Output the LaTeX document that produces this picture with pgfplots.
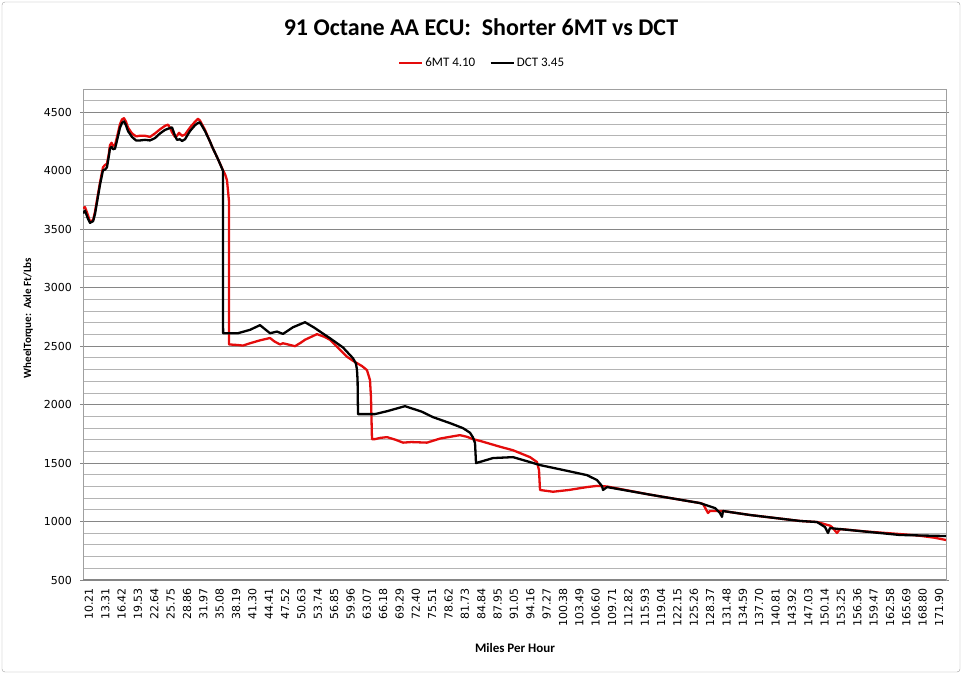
\documentclass[border=0pt]{standalone}
\usepackage{pgfplots}
\pgfplotsset{compat=1.18}
\usepackage{fontspec}
\setmainfont{Carlito}
\newfontfamily\dejavu{DejaVu Sans}
\definecolor{sixmt}{RGB}{228,12,12}
\definecolor{majgrid}{RGB}{134,134,134}
\definecolor{mingrid}{RGB}{180,180,180}
\definecolor{frame}{RGB}{160,160,160}
\begin{document}
\begin{tikzpicture}[x=1pt,y=1pt]
\path (0,0) rectangle (963,675);
\draw[frame, rounded corners=3pt] (2,3) rectangle (960,673);
\node[font=\bfseries\fontsize{24}{28}\selectfont] at (481,648) {91 Octane AA ECU:\ \ Shorter 6MT vs DCT};
\begin{axis}[
  at={(83pt,95pt)}, anchor=south west,
  scale only axis, width=863pt, height=491pt,
  xmin=9.07, xmax=173.23,
  ymin=500, ymax=4700,
  ytick={500,1000,...,4500},
  minor ytick={600,700,800,900,1100,1200,1300,1400,1600,1700,1800,1900,2100,2200,2300,2400,2600,2700,2800,2900,3100,3200,3300,3400,3600,3700,3800,3900,4100,4200,4300,4400,4600,4700},
  ymajorgrids, yminorgrids,
  major grid style={majgrid, line width=0.9pt},
  minor grid style={mingrid, line width=0.9pt},
  xtick={10.21,13.31,16.42,19.53,22.64,25.75,28.86,31.97,35.08,38.19,41.30,44.41,47.52,50.63,53.74,56.85,59.96,63.07,66.18,69.29,72.40,75.51,78.62,81.73,84.84,87.95,91.05,94.16,97.27,100.38,103.49,106.60,109.71,112.82,115.93,119.04,122.15,125.26,128.37,131.48,134.59,137.70,140.81,143.92,147.03,150.14,153.25,156.36,159.47,162.58,165.69,168.80,171.90},
  xticklabels={10.21,13.31,16.42,19.53,22.64,25.75,28.86,31.97,35.08,38.19,41.30,44.41,47.52,50.63,53.74,56.85,59.96,63.07,66.18,69.29,72.40,75.51,78.62,81.73,84.84,87.95,91.05,94.16,97.27,100.38,103.49,106.60,109.71,112.82,115.93,119.04,122.15,125.26,128.37,131.48,134.59,137.70,140.81,143.92,147.03,150.14,153.25,156.36,159.47,162.58,165.69,168.80,171.90},
  xtick style={draw=none},
  x tick label style={rotate=90, anchor=east, font=\dejavu\fontsize{11}{13}\selectfont, inner sep=0pt, xshift=-5pt},
  y tick label style={font=\dejavu\fontsize{11}{13}\selectfont, inner sep=0pt, xshift=-8pt},
  /pgf/number format/assume math mode=true,
  /pgf/number format/set thousands separator={},
  tick align=outside,
  major tick length=3pt, minor tick length=0pt,
  ytick style={draw=majgrid, line width=0.8pt},
  axis line style={draw=frame, line width=0.8pt},
  xlabel={Miles Per Hour},
  xlabel style={at={(axis description cs:0.5006,-0.1385)}, anchor=center, font=\bfseries\fontsize{13}{15}\selectfont},
  ylabel={WheelTorque:\ \ Axle Ft/Lbs},
  ylabel style={at={(axis description cs:-0.0637,0.5336)}, anchor=center, font=\bfseries\fontsize{11}{13}\selectfont},
  legend columns=2,
  legend style={at={(axis description cs:0.4623,1.053)}, anchor=center, draw=none, fill=none,
    font=\fontsize{13}{15}\selectfont, inner sep=0pt,
    /tikz/every even column/.append style={column sep=12pt},
    nodes={inner sep=2pt}},
  legend image code/.code={\draw[#1, line width=2.5pt] (0pt,0pt) -- (23pt,0pt);},
  clip=true,
]
\addplot[sixmt, line width=2.3pt, line join=round, no markers] coordinates {
(9.07,3680) (9.45,3690) (10.02,3620) (10.40,3565) (11.0,3580) (11.35,3650)
(12.30,3900) (12.87,4030) (13.25,4050) (13.63,4060) (14.0,4150) (14.20,4220)
(14.5,4240) (14.78,4215) (15.16,4220) (15.54,4290) (16.11,4400) (16.49,4440)
(16.87,4450) (17.25,4420) (17.63,4370) (18.39,4320) (19.15,4295) (19.91,4300)
(20.86,4300) (21.81,4290) (22.76,4320) (23.72,4355) (24.67,4385) (25.24,4395)
(25.6,4370) (26.0,4330) (26.57,4290) (26.95,4300) (27.33,4325) (27.90,4300)
(28.47,4310) (29.42,4370) (30.37,4420) (30.94,4445) (31.32,4430) (32.28,4350)
(33.23,4250) (33.80,4190) (34.75,4100) (35.70,4005) (36.10,3970) (36.46,3920)
(36.65,3830) (36.84,3740) (36.86,2515) (38.55,2510) (39.50,2505) (40.84,2525)
(42.74,2550) (44.64,2570) (45.5,2540) (46.54,2515) (47.11,2525) (48.06,2515)
(49.40,2500) (50.5,2530) (51.30,2555) (53.58,2603) (55.0,2580) (56.05,2555)
(57.96,2470) (59.29,2410) (60.43,2375) (61.19,2355) (62.14,2330) (63.09,2295)
(63.66,2210) (63.85,2064) (64.04,1705) (64.61,1705) (65.5,1715) (66.90,1722)
(68.5,1700) (69.94,1675) (71.5,1680) (74.50,1675) (77.0,1710) (80.21,1735)
(80.78,1739) (82.11,1725) (83.25,1705) (84.59,1690) (88.39,1640) (90.86,1610)
(94.10,1551) (95.43,1509) (95.81,1440) (96.00,1270) (98.47,1255) (101.5,1270)
(104.94,1295) (106.84,1305) (108.75,1300) (116.93,1230) (126.44,1158) (127.01,1150)
(127.96,1073) (128.34,1090) (130.81,1090) (135.95,1056) (145.46,1005) (148.69,996)
(151.16,965) (151.54,953) (152.49,902) (153.06,936) (158.0,915) (164.48,893)
(168.0,880) (171.0,862) (173.23,842)
};
\addlegendentry{6MT 4.10}
\addplot[black, line width=2.3pt, line join=round, no markers] coordinates {
(9.07,3637) (9.45,3660) (10.02,3590) (10.40,3555) (11.0,3570) (11.35,3630)
(12.30,3880) (12.87,4005) (13.25,4010) (13.63,4030) (14.0,4130) (14.20,4190)
(14.5,4205) (14.78,4185) (15.16,4190) (15.54,4260) (16.11,4370) (16.49,4410)
(16.87,4423) (17.25,4390) (17.63,4340) (18.39,4290) (19.15,4260) (19.91,4260)
(20.86,4265) (21.81,4260) (22.76,4280) (23.72,4320) (24.67,4350) (25.24,4360)
(26.00,4372) (26.57,4300) (26.95,4265) (27.52,4270) (27.90,4255) (28.47,4270)
(29.42,4340) (30.37,4390) (30.94,4410) (31.32,4415) (32.28,4340) (33.23,4250)
(33.80,4190) (34.75,4100) (35.70,4000) (35.72,2611) (38.55,2611) (40.84,2640)
(42.74,2680) (44.64,2611) (45.97,2625) (47.11,2605) (49.02,2662) (51.30,2705)
(53.0,2660) (56.05,2568) (58.5,2490) (60.43,2397) (61.0,2350) (61.19,2295)
(61.30,2210) (61.38,1919) (64.61,1919) (67.0,1945) (70.32,1987) (73.5,1940)
(75.65,1893) (79.0,1840) (81.35,1799) (82.68,1760) (83.25,1720) (83.64,1671)
(83.83,1500) (87.06,1543) (90.86,1551) (94.0,1510) (96.00,1483) (100.0,1445)
(104.94,1397) (106.84,1355) (107.80,1303) (107.99,1270) (108.75,1295) (116.93,1230)
(126.44,1158) (129.29,1115) (130.24,1073) (130.62,1040) (130.81,1090) (135.95,1056)
(145.46,1005) (148.69,996) (150.21,953) (150.78,902) (151.16,944) (164.48,885)
(173.23,876)
};
\addlegendentry{DCT 3.45}
\draw[majgrid, line width=3pt] (rel axis cs:0,0) -- (rel axis cs:1,0);
\end{axis}
\end{tikzpicture}
\end{document}
